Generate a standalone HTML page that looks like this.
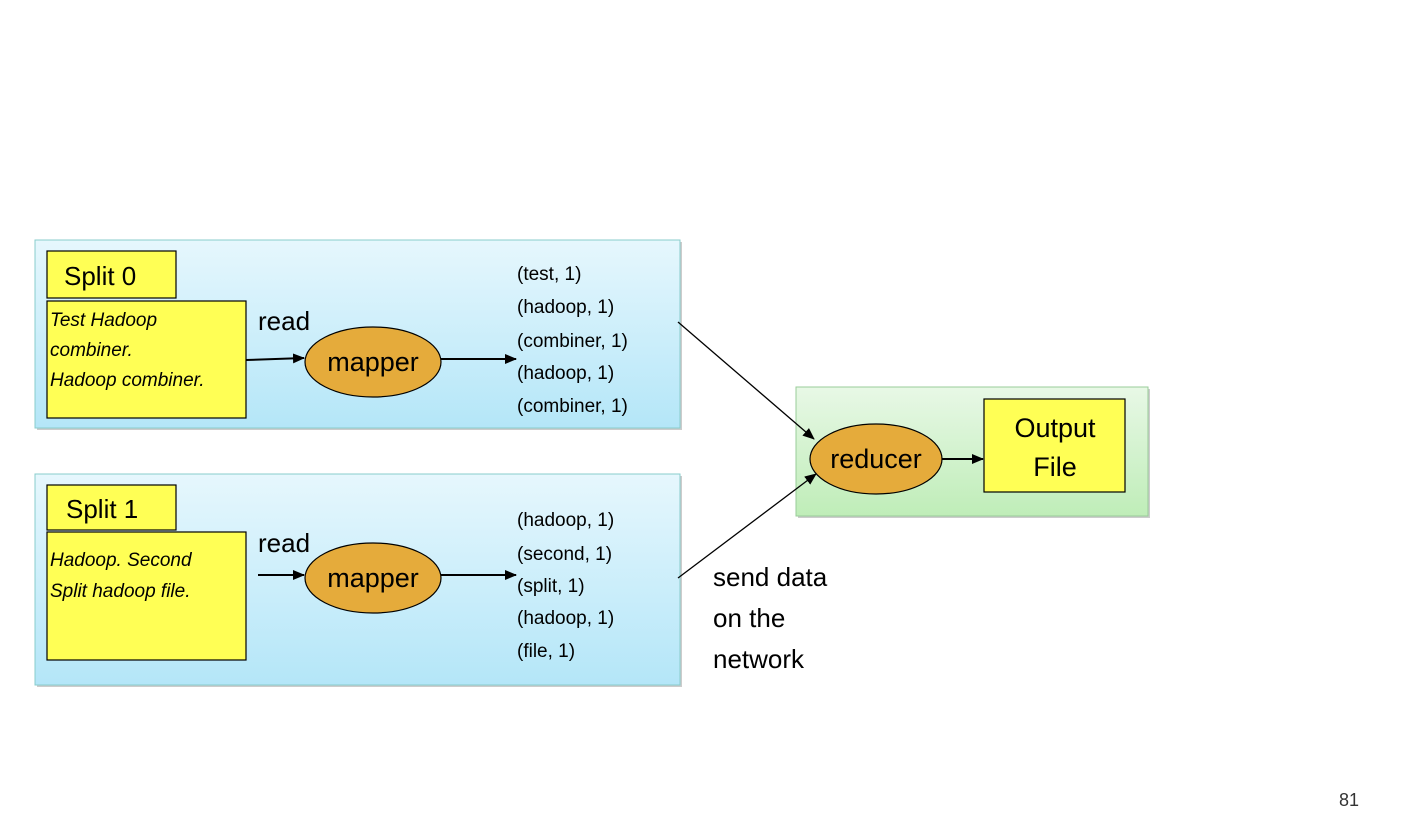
<!DOCTYPE html>
<html><head><style>body{margin:0;background:#fff}</style></head><body>
<svg width="1404" height="822" xmlns="http://www.w3.org/2000/svg" font-family="Liberation Sans, sans-serif">
<defs>
<linearGradient id="b" x1="0" y1="0" x2="0" y2="1"><stop offset="0" stop-color="#e6f7fd"/><stop offset="1" stop-color="#b4e6f8"/></linearGradient>
<linearGradient id="g" x1="0" y1="0" x2="0" y2="1"><stop offset="0" stop-color="#e8f8e6"/><stop offset="1" stop-color="#bfedb8"/></linearGradient>
<marker id="a" markerWidth="12" markerHeight="10" refX="11" refY="5" orient="auto" markerUnits="userSpaceOnUse"><path d="M0,0L12,5L0,10z" fill="#000"/></marker>
</defs>
<rect x="37" y="242" width="645" height="188" fill="#999" opacity=".5"/>
<rect x="35" y="240" width="645" height="188" fill="url(#b)" stroke="#8cc" stroke-width="1"/>
<rect x="37" y="476" width="645" height="211" fill="#999" opacity=".5"/>
<rect x="35" y="474" width="645" height="211" fill="url(#b)" stroke="#8cc" stroke-width="1"/>
<rect x="798" y="389" width="352" height="129" fill="#999" opacity=".5"/>
<rect x="796" y="387" width="352" height="129" fill="url(#g)" stroke="#9c9" stroke-width="1"/>
<g stroke="#000" stroke-width="1.2" fill="#ffff55">
<rect x="47" y="251" width="129" height="47"/>
<rect x="47" y="301" width="199" height="117"/>
<rect x="47" y="485" width="129" height="45"/>
<rect x="47" y="532" width="199" height="128"/>
<rect x="984" y="399" width="141" height="93"/>
</g>
<g fill="#e5ab3b" stroke="#000" stroke-width="1.2">
<ellipse cx="373" cy="362" rx="68" ry="35"/>
<ellipse cx="373" cy="578" rx="68" ry="35"/>
<ellipse cx="876" cy="459" rx="66" ry="35"/>
</g>
<g stroke="#000" stroke-width="2" marker-end="url(#a)">
<line x1="246" y1="360" x2="304" y2="358"/>
<line x1="441" y1="359" x2="516" y2="359"/>
<line x1="258" y1="575" x2="304" y2="575"/>
<line x1="441" y1="575" x2="516" y2="575"/>
<line x1="942" y1="459" x2="983" y2="459"/>
</g>
<g stroke="#000" stroke-width="1.3" marker-end="url(#a)">
<line x1="678" y1="322" x2="814" y2="439"/>
<line x1="678" y1="578" x2="816" y2="474"/>
</g>
<g font-size="26" fill="#000">
<text x="64" y="285">Split 0</text>
<text x="66" y="518">Split 1</text>
<text x="258" y="330">read</text>
<text x="258" y="552">read</text>
<text x="373" y="371" text-anchor="middle" font-size="27">mapper</text>
<text x="373" y="587" text-anchor="middle" font-size="27">mapper</text>
<text x="876" y="468" text-anchor="middle" font-size="27">reducer</text>
<text x="1055" y="437" text-anchor="middle" font-size="27">Output</text>
<text x="1055" y="476" text-anchor="middle" font-size="27">File</text>
<text x="713" y="586">send data</text>
<text x="713" y="627">on the</text>
<text x="713" y="668">network</text>
</g>
<g font-size="19" font-style="italic">
<text x="50" y="326">Test Hadoop</text>
<text x="50" y="356">combiner.</text>
<text x="50" y="386">Hadoop combiner.</text>
<text x="50" y="566">Hadoop. Second</text>
<text x="50" y="597">Split hadoop file.</text>
</g>
<g font-size="19">
<text x="517" y="280">(test, 1)</text>
<text x="517" y="313">(hadoop, 1)</text>
<text x="517" y="347">(combiner, 1)</text>
<text x="517" y="379">(hadoop, 1)</text>
<text x="517" y="412">(combiner, 1)</text>
<text x="517" y="526">(hadoop, 1)</text>
<text x="517" y="560">(second, 1)</text>
<text x="517" y="592">(split, 1)</text>
<text x="517" y="624">(hadoop, 1)</text>
<text x="517" y="657">(file, 1)</text>
</g>
<text x="1339" y="806" font-size="18" fill="#333">81</text>
</svg>
</body></html>
